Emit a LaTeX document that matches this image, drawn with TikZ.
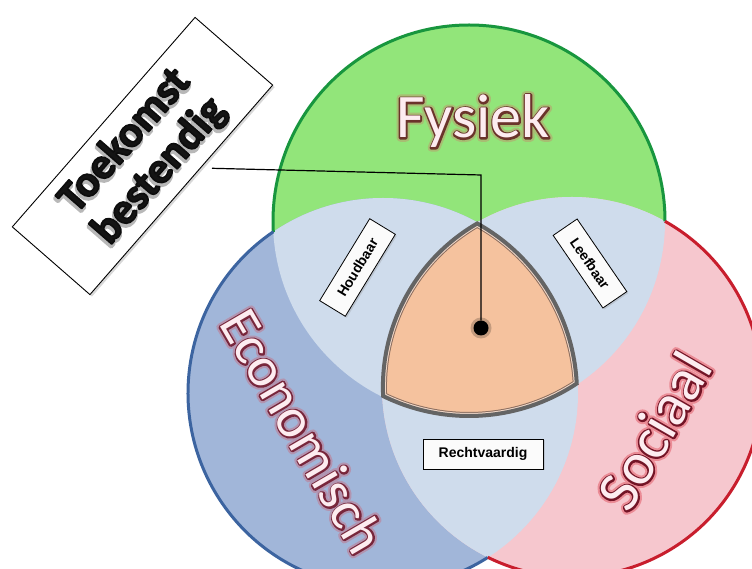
\documentclass[tikz,border=0pt]{standalone}
\usepackage{fontspec}
\setmainfont{Carlito}
\newfontfamily\arialf{Liberation Sans}
\usetikzlibrary{shadows}
\definecolor{gfill}{RGB}{146,229,122}
\definecolor{gline}{RGB}{24,150,62}
\definecolor{bfill}{RGB}{161,182,217}
\definecolor{bline}{RGB}{60,100,160}
\definecolor{rfill}{RGB}{246,199,206}
\definecolor{rline}{RGB}{200,30,45}
\definecolor{ovl}{RGB}{207,220,236}
\definecolor{orf}{RGB}{245,194,158}
\definecolor{trigray}{RGB}{100,100,100}
\definecolor{trilight}{RGB}{240,215,200}
\definecolor{tridark}{RGB}{140,110,95}
\definecolor{tfill}{RGB}{253,236,240}
% text painted through the PDF text render mode: #1 mode, #2 width, #3 stroke rgb
\newcommand\strkmode[3]{\special{pdf:literal direct q #1 Tr #2 w 1 j #3 RG}}
\newcommand\strkoff{\special{pdf:literal direct Q}}
% glowing, outlined category label
\newcommand\catlabel[6]{%
  \node[cat, #3] (#1glow) at #2 {\strkmode{1}{7.5}{#6}#4\strkoff};
  \node[cat, #3] (#1line) at #2 {\strkmode{1}{3.4}{#5}#4\strkoff};
  \node[cat, #3] (#1) at #2 {#4};
}
\tikzset{
  lbl/.style={draw=black, line width=0.8pt, fill=white!97!gray, inner sep=0pt,
    font=\arialf\bfseries\fontsize{14}{14}\selectfont,
    drop shadow={opacity=0.25, shadow xshift=1.5pt, shadow yshift=-1.5pt}},
  bigbox/.style={draw=black, line width=0.9pt, fill=white, inner sep=0pt,
    minimum width=278pt, minimum height=103pt,
    drop shadow={opacity=0.3, shadow xshift=2pt, shadow yshift=-2pt}},
  bigtxt/.style={align=center, inner sep=0pt, text=black!92,
    font=\bfseries\fontsize{44}{46}\selectfont},
  cat/.style={inner sep=0pt, text=tfill}
}
\begin{document}
\begin{tikzpicture}[x=1pt,y=1pt]
\useasboundingbox (0,0) rectangle (752,569);
\fill[white] (0,0) rectangle (752,569);
\coordinate (gc) at (469,348);
\coordinate (bc) at (383,176);
\coordinate (rc) at (572,182);
% circle fills
\fill[gfill] (gc) circle[radius=196];
\fill[bfill] (bc) circle[radius=195];
\fill[rfill] (rc) circle[radius=190];
\begin{scope}
  \clip (gc) circle[radius=196];
  \fill[ovl] (bc) circle[radius=195];
  \fill[ovl] (rc) circle[radius=190];
\end{scope}
\begin{scope}
  \clip (bc) circle[radius=195];
  \fill[ovl] (rc) circle[radius=190];
\end{scope}
% outer borders
\draw[gline, line width=3pt] ([shift={(-0.1:196)}]gc) arc[start angle=-0.1, end angle=183.2, radius=196];
\draw[bline, line width=3pt] ([shift={(124.2:195)}]bc) arc[start angle=124.2, end angle=302.5, radius=195];
\draw[rline, line width=3pt] ([shift={(-116.3:190)}]rc) arc[start angle=-116.3, end angle=60.7, radius=190];
% central region
\fill[orf] ([shift={(243.7:196)}]gc) arc[start angle=243.7, end angle=303.7, radius=196]
  arc[start angle=2.65, end angle=61.1, radius=195]
  arc[start angle=119.9, end angle=182.9, radius=190] -- cycle;
\begin{scope}
  \clip ([shift={(243.7:196)}]gc) arc[start angle=243.7, end angle=303.7, radius=196]
    arc[start angle=2.65, end angle=61.1, radius=195]
    arc[start angle=119.9, end angle=182.9, radius=190] -- cycle;
  \draw[tridark, line width=10pt] ([shift={(243.7:196)}]gc) arc[start angle=243.7, end angle=303.7, radius=196]
    arc[start angle=2.65, end angle=61.1, radius=195]
    arc[start angle=119.9, end angle=182.9, radius=190] -- cycle;
  \draw[trilight, line width=8pt] ([shift={(243.7:196)}]gc) arc[start angle=243.7, end angle=303.7, radius=196]
    arc[start angle=2.65, end angle=61.1, radius=195]
    arc[start angle=119.9, end angle=182.9, radius=190] -- cycle;
  \draw[trigray, line width=6pt] ([shift={(243.7:196)}]gc) arc[start angle=243.7, end angle=303.7, radius=196]
    arc[start angle=2.65, end angle=61.1, radius=195]
    arc[start angle=119.9, end angle=182.9, radius=190] -- cycle;
\end{scope}
\draw[trigray, line width=2pt] ([shift={(243.7:196)}]gc) arc[start angle=243.7, end angle=303.7, radius=196]
  arc[start angle=2.65, end angle=61.1, radius=195]
  arc[start angle=119.9, end angle=182.9, radius=190] -- cycle;
% small labels
\node[lbl, rotate=58.6, minimum width=96pt, minimum height=30pt] (houd) at (357.5,301.5) {Houdbaar};
\node[lbl, rotate=-55.6, minimum width=88pt, minimum height=29pt] (leef) at (590,305.5) {Leefbaar};
\node[lbl, minimum width=120pt, minimum height=30pt] (recht) at (483,115) {Rechtvaardig};
% big labels
\catlabel{fy}{(473,431)}{anchor=base, font=\fontsize{62}{62}\selectfont}{Fysiek}{0.42 0.20 0.17}{0.66 0.74 0.45}
\catlabel{ec}{(303,138)}{rotate=-59.7, font=\fontsize{56}{56}\selectfont}{Economisch}{0.47 0.15 0.23}{0.70 0.58 0.69}
\catlabel{so}{(654,138)}{rotate=60, font=\fontsize{60}{60}\selectfont}{Sociaal}{0.45 0.08 0.15}{0.92 0.55 0.59}
% connector and dot
\fill[black, opacity=0.2] (481,241) circle[radius=10.5];
\node[circle, fill=black, minimum size=15pt, inner sep=0pt] (dot) at (481,241) {};
\coordinate (lnstart) at (212,400.7);
\coordinate (lnbend) at (481,394);
\draw[black, line width=1.2pt] (lnstart) -- (lnbend) -- (dot);
% title box
\node[bigbox, rotate=48.9] (tbox) at (142.5,413) {};
\node[bigtxt, rotate=48.9, text=black!28] (tshadow) at (142,410)
  {\strkmode{2}{3.2}{0.72 0.72 0.72}Toekomst\\bestendig\strkoff};
\node[bigtxt, rotate=48.9] (ttext) at (142.5,413)
  {\strkmode{2}{1.6}{0.05 0.05 0.05}Toekomst\\bestendig\strkoff};
\end{tikzpicture}
\end{document}
